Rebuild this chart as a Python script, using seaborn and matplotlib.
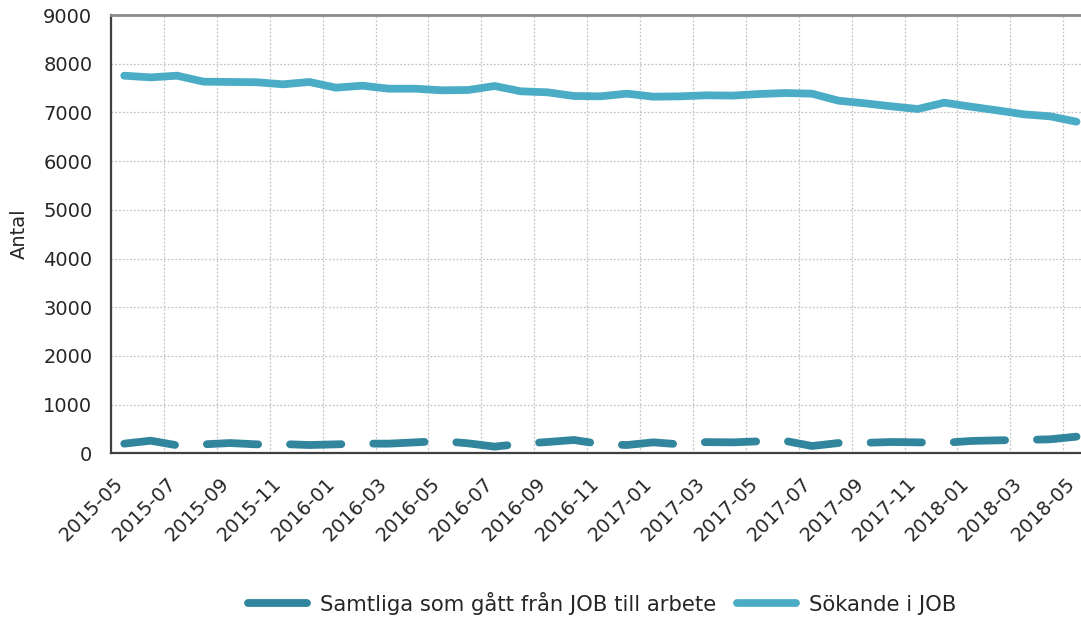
import numpy as np
import pandas as pd
import matplotlib
matplotlib.use("Agg")
import matplotlib.pyplot as plt
from matplotlib.lines import Line2D
import seaborn as sns

# ---- data ----
months = pd.period_range("2015-05", "2018-05", freq="M").strftime("%Y-%m").tolist()
sokande = [7754, 7720, 7754, 7631, 7625, 7620, 7577, 7625, 7508, 7549, 7487, 7487,
           7454, 7460, 7542, 7433, 7413, 7337, 7330, 7385, 7323, 7330, 7351, 7345,
           7378, 7398, 7385, 7241, 7187, 7125, 7070, 7200, 7118, 7043, 6961, 6920, 6809]
samtliga = [198, 259, 164, 184, 211, 184, 190, 170, 184, 200, 198, 225,
            250, 205, 137, 195, 232, 273, 190, 170, 225, 184, 230, 225,
            246, 253, 150, 211, 215, 232, 225, 215, 253, 266, 275, 287, 342]
tick_labels = months[::2]
series_names = ["Samtliga som gått från JOB till arbete", "Sökande i JOB"]
y_ticks = list(range(0, 9001, 1000))

# ---- style ----
sns.set_style("white")
plt.rcParams["font.family"] = ["DejaVu Sans"]
c_dark = "#31859C"
c_light = "#4BACC6"
lw = 5.6

fig = plt.figure(figsize=(10.81, 6.18), dpi=100)
ax = fig.add_axes([0.1027, 0.2665, 0.8973, 0.7092])

xpos = np.arange(len(months)) + 0.5
df = pd.DataFrame({"x": xpos, "sam": samtliga, "sok": sokande})

sns.lineplot(data=df, x="x", y="sam", ax=ax, color=c_dark, lw=lw, legend=False)
l1 = ax.lines[-1]
l1.set_dashes((6.6, 4.1))
l1.set_dash_capstyle("round")
l1.set_solid_capstyle("round")
l1.set_clip_on(False)
sns.lineplot(data=df, x="x", y="sok", ax=ax, color=c_light, lw=lw, legend=False)
l2 = ax.lines[-1]
l2.set_solid_capstyle("round")
l2.set_clip_on(False)

ax.set_xlim(0, 36.67)
ax.set_ylim(0, 9000)
ax.set_yticks(y_ticks)
ax.set_yticklabels([str(v) for v in y_ticks], fontsize=14)
ax.set_xticks(np.arange(0, 37, 2))
ax.set_xticklabels([""] * len(tick_labels))
ax.set_xticks(np.arange(0, 37, 2) + 0.34, minor=True)
ax.set_xticklabels(tick_labels, minor=True, rotation=45, ha="right",
                   rotation_mode="anchor", va="center", fontsize=14)

ax.grid(True, which="major", color="#c4c4c4", linestyle=(0, (1.5, 1.5)), linewidth=0.9)
ax.tick_params(axis="both", which="major", direction="out", length=4.5, width=1.3,
               color="#404040", pad=9)
ax.tick_params(axis="x", which="minor", length=0, pad=19.5)
ax.tick_params(axis="x", which="major", pad=0)

for s in ["left", "bottom"]:
    ax.spines[s].set_color("#404040")
    ax.spines[s].set_linewidth(1.6)
ax.spines["top"].set_color("#8c8c8c")
ax.spines["top"].set_linewidth(2.0)
ax.spines["right"].set_visible(False)

ax.set_xlabel("")
ax.set_ylabel("Antal", fontsize=14, labelpad=10)

handles = [Line2D([], [], color=c_dark, lw=lw, solid_capstyle="round"),
           Line2D([], [], color=c_light, lw=lw, solid_capstyle="round")]
fig.legend(handles, series_names, loc="center", bbox_to_anchor=(0.557, 0.024),
           ncol=2, frameon=False, fontsize=15.2, handlelength=2.8,
           handletextpad=0.6, columnspacing=1.0)

fig.savefig("out.png", dpi=100)
